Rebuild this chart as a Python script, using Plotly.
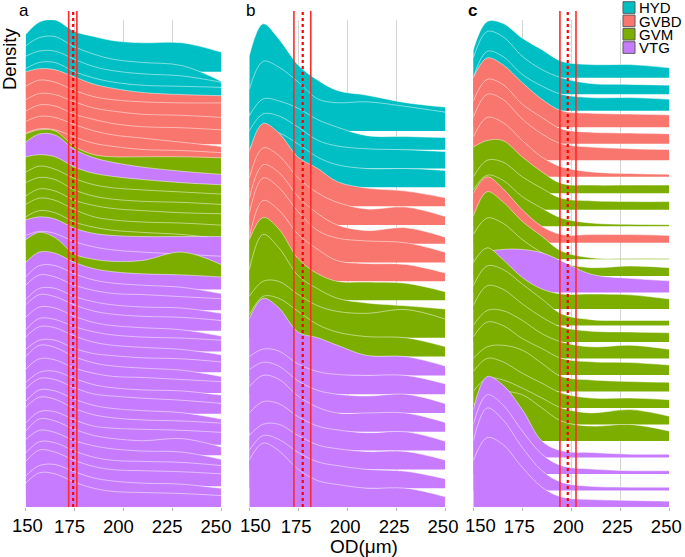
import plotly.graph_objects as go

# ---------------- data ----------------
X_KNOTS = [150, 157, 165, 175, 185, 195, 210, 230, 250]
X_TICKS = [150, 175, 200, 225, 250]
X_TICK_TEXT = ["150", "175", "200", "225", "250"]
STAGES = ["HYD", "GVBD", "GVM", "VTG"]
STAGE_COLORS = ["#00BFC4", "#F8766D", "#7CAE00", "#C77CFF"]

# panel a ridges, top to bottom (heights in ridge-spacing units)
A_GROUPS = ["HYD", "HYD", "HYD", "HYD",
            "GVBD", "GVBD", "GVBD", "GVBD", "GVBD", "GVBD",
            "GVM", "VTG",
            "GVM", "GVM", "GVM", "GVM", "GVM", "GVM",
            "VTG", "VTG", "GVM",
            "VTG", "VTG", "VTG", "VTG", "VTG", "VTG", "VTG", "VTG", "VTG", "VTG", "VTG",
            "VTG", "VTG", "VTG", "VTG", "VTG", "VTG", "VTG", "VTG", "VTG", "VTG", "VTG"]
A_HEIGHTS = [
    [3.6, 4.8, 5.0, 3.9, 3.4, 3.0, 2.8, 2.8, 1.9],
    [3.5, 4.3, 4.4, 3.4, 2.7, 2.2, 1.9, 1.6, 0.1],
    [3.5, 4.0, 4.0, 3.2, 2.5, 2.1, 1.8, 1.6, 1.0],
    [3.3, 3.9, 3.9, 3.0, 2.4, 2.0, 1.7, 1.6, 1.5],
    [4.0, 4.3, 4.2, 3.5, 2.8, 2.4, 2.0, 1.8, 1.7],
    [3.6, 4.2, 4.0, 3.2, 2.6, 2.3, 2.1, 2.0, 2.0],
    [3.3, 3.9, 3.8, 3.1, 2.5, 2.2, 1.9, 1.8, 1.6],
    [3.2, 3.8, 3.7, 2.9, 2.4, 2.0, 1.7, 1.6, 1.4],
    [3.2, 3.7, 3.6, 2.9, 2.3, 1.9, 1.6, 1.2, 0.8],
    [3.1, 3.5, 3.4, 2.7, 2.1, 1.8, 1.5, 1.4, 1.2],
    [4.0, 4.4, 4.3, 2.8, 2.0, 1.8, 1.8, 1.8, 1.7],
    [4.2, 5.0, 4.9, 3.5, 2.7, 2.25, 1.8, 1.4, 1.1],
    [3.8, 4.0, 3.8, 2.8, 2.2, 1.9, 1.6, 1.3, 1.1],
    [3.3, 3.9, 3.6, 2.7, 2.1, 1.8, 1.6, 1.4, 1.2],
    [3.3, 3.8, 3.6, 2.6, 2.0, 1.7, 1.5, 1.4, 1.2],
    [3.0, 3.7, 3.5, 2.6, 2.1, 1.8, 1.6, 1.4, 1.3],
    [3.2, 3.8, 3.6, 2.7, 2.0, 1.7, 1.5, 1.4, 1.2],
    [3.0, 3.6, 3.4, 2.5, 2.0, 1.7, 1.5, 1.3, 0.9],
    [3.7, 4.0, 3.8, 2.9, 2.4, 2.2, 2.1, 2.1, 2.1],
    [3.2, 3.6, 3.4, 2.6, 2.1, 1.8, 1.6, 1.4, 1.2],
    [3.8, 4.5, 4.0, 2.4, 1.9, 1.7, 1.8, 2.6, 1.4],
    [2.6, 3.6, 3.5, 2.6, 2.0, 1.7, 1.5, 1.4, 1.2],
    [2.2, 3.3, 3.3, 2.5, 1.9, 1.6, 1.4, 1.2, 0.6],
    [2.4, 3.4, 3.2, 2.4, 1.9, 1.6, 1.5, 1.3, 1.1],
    [2.0, 3.1, 3.1, 2.3, 1.8, 1.5, 1.3, 1.2, 0.7],
    [2.5, 3.5, 3.3, 2.5, 1.9, 1.6, 1.4, 1.3, 1.0],
    [2.3, 3.3, 3.2, 2.4, 1.8, 1.5, 1.3, 1.1, 0.5],
    [2.1, 3.2, 3.1, 2.4, 1.9, 1.6, 1.4, 1.3, 1.1],
    [2.4, 3.4, 3.3, 2.5, 1.9, 1.6, 1.4, 1.2, 0.7],
    [2.2, 3.1, 3.1, 2.3, 1.8, 1.6, 1.4, 1.3, 1.0],
    [2.5, 3.6, 3.4, 2.5, 1.9, 1.6, 1.4, 1.2, 0.6],
    [2.3, 3.3, 3.2, 2.4, 1.9, 1.6, 1.5, 1.3, 1.1],
    [2.0, 3.0, 3.1, 2.4, 1.8, 1.5, 1.3, 1.2, 0.8],
    [2.4, 3.4, 3.3, 2.5, 1.9, 1.7, 1.5, 1.3, 1.0],
    [2.2, 3.3, 3.2, 2.4, 1.8, 1.5, 1.3, 1.1, 0.5],
    [2.6, 3.6, 3.4, 2.5, 1.9, 1.6, 1.4, 1.3, 1.1],
    [2.1, 3.2, 3.2, 2.4, 1.8, 1.6, 1.5, 1.4, 1.2],
    [2.3, 3.5, 3.3, 2.5, 1.9, 1.6, 1.4, 1.6, 0.8],
    [2.5, 3.4, 3.2, 2.4, 1.9, 1.6, 1.4, 1.3, 0.6],
    [2.2, 3.3, 3.2, 2.4, 1.8, 1.5, 1.4, 1.3, 1.0],
    [2.4, 3.5, 3.3, 2.5, 1.9, 1.6, 1.5, 1.4, 1.2],
    [2.0, 3.0, 3.1, 2.4, 1.8, 1.5, 1.3, 1.2, 0.8],
    [2.3, 3.3, 3.2, 2.4, 1.8, 1.5, 1.4, 1.3, 1.1],
]

# panel b ridges, top to bottom
B_GROUPS = ["HYD", "HYD", "HYD", "HYD", "HYD",
            "GVBD", "GVBD", "GVBD", "GVBD", "GVBD",
            "GVM", "GVM", "GVM", "GVM",
            "VTG", "VTG", "VTG", "VTG", "VTG", "VTG", "VTG", "VTG"]
B_HEIGHTS = [
    [3.0, 4.7, 3.9, 2.5, 1.7, 1.15, 0.9, 0.5, 0.27],
    [2.2, 3.7, 3.4, 2.6, 1.7, 1.5, 1.55, 1.3, 1.0],
    [1.8, 2.7, 2.6, 2.2, 1.6, 1.2, 0.75, 0.7, 0.65],
    [2.0, 2.9, 2.8, 2.2, 1.5, 1.2, 1.05, 1.0, 0.9],
    [2.0, 3.0, 2.9, 2.3, 1.6, 1.2, 1.0, 1.0, 0.9],
    [2.9, 4.4, 3.9, 2.6, 2.0, 1.3, 0.96, 0.8, 0.45],
    [2.5, 4.1, 3.7, 2.5, 1.7, 1.2, 0.85, 0.95, 0.45],
    [2.4, 4.2, 3.8, 2.5, 1.6, 1.0, 0.7, 0.85, 0.35],
    [2.6, 4.5, 4.0, 2.7, 1.7, 1.3, 1.15, 1.05, 0.55],
    [2.3, 4.3, 3.8, 2.5, 1.7, 1.1, 0.95, 0.9, 0.45],
    [3.2, 4.4, 3.8, 2.2, 1.4, 1.0, 0.96, 0.9, 0.45],
    [2.6, 4.5, 3.8, 2.3, 1.6, 1.1, 0.85, 0.7, 0.53],
    [2.2, 3.0, 3.0, 2.3, 1.7, 1.4, 1.3, 1.5, 1.0],
    [2.2, 3.2, 3.1, 2.4, 1.7, 1.3, 1.06, 1.0, 0.53],
    [3.0, 4.1, 3.6, 2.3, 2.0, 1.6, 1.06, 1.0, 0.5],
    [2.0, 2.4, 2.3, 1.6, 1.2, 1.05, 1.0, 1.0, 0.55],
    [2.3, 2.7, 2.5, 1.7, 1.2, 1.0, 0.9, 1.0, 0.5],
    [2.4, 3.0, 2.8, 1.9, 1.3, 1.0, 1.0, 1.0, 0.5],
    [2.0, 2.6, 2.5, 1.8, 1.3, 1.1, 0.95, 1.0, 0.5],
    [1.8, 2.4, 2.4, 1.8, 1.3, 1.1, 0.95, 0.95, 0.5],
    [2.0, 2.8, 2.6, 1.9, 1.4, 1.2, 1.0, 0.9, 0.5],
    [2.5, 3.4, 3.0, 2.0, 1.4, 1.2, 1.0, 1.0, 0.55],
]

# panel c ridges, top to bottom
C_GROUPS = ["HYD", "HYD", "HYD",
            "GVBD", "GVBD", "GVBD", "GVBD",
            "GVM", "GVM", "GVM",
            "GVBD",
            "GVM", "GVM",
            "VTG",
            "GVM", "GVM", "GVM", "GVM", "GVM", "GVM", "GVM", "GVM", "GVM",
            "VTG", "VTG", "VTG", "VTG"]
C_HEIGHTS = [
    [1.7, 3.4, 3.3, 2.4, 1.7, 1.0, 0.8, 0.8, 0.6],
    [2.2, 3.8, 3.5, 2.3, 1.5, 1.0, 0.65, 0.6, 0.55],
    [2.0, 3.6, 3.3, 2.2, 1.5, 1.0, 0.8, 0.8, 0.7],
    [3.0, 4.2, 3.8, 2.7, 1.7, 1.0, 0.85, 0.8, 0.75],
    [2.6, 3.9, 3.6, 2.4, 1.6, 0.9, 0.7, 0.65, 0.6],
    [2.6, 4.0, 3.7, 2.5, 1.6, 1.0, 0.8, 0.7, 0.65],
    [2.4, 3.6, 3.3, 2.2, 1.2, 0.6, 0.3, 0.2, 0.15],
    [2.8, 3.2, 3.2, 2.2, 1.3, 0.6, 0.5, 0.5, 0.5],
    [2.0, 3.0, 2.9, 2.0, 1.3, 0.7, 0.55, 0.5, 0.5],
    [2.2, 3.1, 2.8, 1.8, 1.1, 0.5, 0.2, 0.12, 0.1],
    [3.0, 4.0, 3.3, 2.0, 1.0, 0.5, 0.5, 0.5, 0.45],
    [2.6, 4.1, 3.5, 2.3, 1.4, 0.5, 0.1, 0.05, 0.05],
    [2.5, 3.5, 3.2, 2.2, 1.4, 0.8, 0.5, 0.6, 0.5],
    [1.5, 2.4, 2.6, 2.6, 2.4, 1.9, 1.1, 0.85, 0.7],
    [2.8, 3.7, 3.0, 1.9, 1.2, 0.9, 0.9, 0.85, 0.6],
    [2.4, 3.6, 3.4, 2.5, 1.6, 0.7, 0.35, 0.3, 0.3],
    [2.2, 3.4, 3.2, 2.3, 1.5, 0.9, 0.65, 0.6, 0.55],
    [2.0, 2.9, 2.9, 2.3, 1.5, 1.0, 0.7, 0.8, 0.55],
    [2.3, 3.2, 3.0, 2.2, 1.6, 1.0, 0.8, 0.75, 0.6],
    [2.0, 2.7, 2.8, 2.5, 1.7, 0.9, 0.7, 0.6, 0.55],
    [2.2, 3.0, 2.8, 2.1, 1.5, 0.9, 0.6, 0.6, 0.5],
    [2.0, 2.8, 2.7, 2.2, 1.6, 1.0, 0.7, 0.9, 0.5],
    [2.2, 2.9, 3.0, 2.8, 2.0, 1.2, 0.9, 1.0, 0.6],
    [2.9, 4.9, 4.4, 2.9, 1.0, 0.4, 0.3, 0.2, 0.2],
    [3.0, 4.8, 4.2, 2.6, 1.2, 0.5, 0.3, 0.2, 0.2],
    [3.0, 5.0, 4.3, 2.6, 1.2, 0.5, 0.25, 0.2, 0.2],
    [2.8, 4.2, 3.8, 2.4, 1.2, 0.6, 0.45, 0.4, 0.35],
]

# reference lines per panel: [lower, upper] solid, mean dotted
A_LIMITS, A_MEAN = [172.0, 176.2], 174.3
B_LIMITS, B_MEAN = [172.8, 181.4], 177.3
C_LIMITS, C_MEAN = [194.2, 202.4], 198.2

PANEL_LABELS = ["a", "b", "c"]

# ---------------- figure ----------------
W, H = 685, 557
FONT = "Liberation Sans, Arial, sans-serif"
PLOT_TOP, PLOT_BOTTOM = 20, 507
PANEL_PX = [(25.7, 221.0), (249.3, 445.0), (473.3, 669.3)]
Y_TOPS = [47.0, 25.9, 29.5]
LABEL_SHIFT = [-5, -2, -3]            # px shift of tick labels 175..250
FIRST_SHIFT = [1.5, 5.7, 6.7]         # px shift of the "150" label
TICK_FS = 18.5

panels = [(A_GROUPS, A_HEIGHTS), (B_GROUPS, B_HEIGHTS), (C_GROUPS, C_HEIGHTS)]
fig = go.Figure()
color_of = dict(zip(STAGES, STAGE_COLORS))

for p, (groups, heights) in enumerate(panels):
    xa = "x" if p == 0 else f"x{p+1}"
    ya = "y" if p == 0 else f"y{p+1}"
    n = len(groups)
    for i, (g, h) in enumerate(zip(groups, heights)):
        base = n - 1 - i
        fig.add_trace(go.Scatter(x=[X_KNOTS[0], X_KNOTS[-1]], y=[base, base], mode="lines",
                                 line=dict(width=0), hoverinfo="skip", showlegend=False,
                                 xaxis=xa, yaxis=ya))
        fig.add_trace(go.Scatter(x=X_KNOTS, y=[base + v for v in h], mode="lines",
                                 line=dict(color="rgba(255,255,255,0.7)", width=0.7,
                                           shape="spline", smoothing=1.0),
                                 fill="tonexty", fillcolor=color_of[g],
                                 hoverinfo="skip", showlegend=False,
                                 xaxis=xa, yaxis=ya))

ydom = [1 - PLOT_BOTTOM / H, 1 - PLOT_TOP / H]
layout = dict(width=W, height=H, margin=dict(l=0, r=0, t=0, b=0),
              paper_bgcolor="white", plot_bgcolor="white", showlegend=False,
              font=dict(family=FONT, size=18, color="black"))
for p in range(3):
    sx = "xaxis" if p == 0 else f"xaxis{p+1}"
    sy = "yaxis" if p == 0 else f"yaxis{p+1}"
    x0, x1 = PANEL_PX[p]
    layout[sx] = dict(domain=[x0 / W, x1 / W], range=[150, 250], tickvals=X_TICKS,
                      ticktext=[""] + X_TICK_TEXT[1:], showgrid=True, gridcolor="#d4d4d4",
                      gridwidth=1, zeroline=False, showline=False, ticks="outside",
                      ticklen=3, tickcolor="#b5b5b5", tickfont=dict(size=TICK_FS, family=FONT),
                      ticklabelshift=LABEL_SHIFT[p], ticklabeloverflow="allow",
                      anchor="y" if p == 0 else f"y{p+1}", automargin=False, fixedrange=True)
    layout[sy] = dict(domain=ydom, range=[0, Y_TOPS[p]], showgrid=False, zeroline=False,
                      showticklabels=False, showline=False, ticks="",
                      anchor="x" if p == 0 else f"x{p+1}", automargin=False, fixedrange=True)
fig.update_layout(**layout)

shapes = []
for p, (lims, mean) in enumerate([(A_LIMITS, A_MEAN), (B_LIMITS, B_MEAN), (C_LIMITS, C_MEAN)]):
    xr = "x" if p == 0 else f"x{p+1}"
    for v in lims:
        shapes.append(dict(type="line", xref=xr, yref="paper", x0=v, x1=v,
                           y0=1 - 507 / H, y1=1 - 11 / H,
                           line=dict(color="#FF2A2A", width=1.6)))
    shapes.append(dict(type="line", xref=xr, yref="paper", x0=mean, x1=mean,
                       y0=1 - 507 / H, y1=1 - 11 / H,
                       line=dict(color="#FF0000", width=2.2, dash="dot")))

annotations = []
# first tick label of each panel, placed on the axis value
for p in range(3):
    xr = "x" if p == 0 else f"x{p+1}"
    annotations.append(dict(text=X_TICK_TEXT[0], xref=xr, yref="paper", x=X_TICKS[0],
                            y=1 - 525 / H, xanchor="center", yanchor="middle",
                            xshift=FIRST_SHIFT[p], showarrow=False,
                            font=dict(size=TICK_FS, family=FONT, color="black")))
# legend
for j, (s, c) in enumerate(zip(STAGES, STAGE_COLORS)):
    top = 1.7 + j * 13.35
    shapes.append(dict(type="rect", xref="paper", yref="paper",
                       x0=623 / W, x1=635 / W, y0=1 - (top + 11.6) / H, y1=1 - top / H,
                       fillcolor=c, line=dict(color="#5a5a5a", width=1), layer="above"))
    annotations.append(dict(text=s, xref="paper", yref="paper", x=636.5 / W, y=1 - (top + 6.0) / H,
                            xanchor="left", yanchor="middle", showarrow=False,
                            font=dict(size=15, family=FONT, color="black")))

annotations.append(dict(text="OD(μm)", xref="paper", yref="paper", x=364 / W, y=1 - 546 / H,
                        xanchor="center", yanchor="middle", showarrow=False,
                        font=dict(size=19, family=FONT)))
annotations.append(dict(text="Density", xref="paper", yref="paper", x=10 / W, y=1 - 59 / H,
                        xanchor="center", yanchor="middle", textangle=-90, showarrow=False,
                        font=dict(size=18.5, family=FONT)))
for p, (lab, px) in enumerate(zip(PANEL_LABELS, [24.5, 250, 472])):
    annotations.append(dict(text=f"<b>{lab}</b>" if lab == "c" else lab, xref="paper", yref="paper",
                            x=px / W, y=1 - 10.5 / H, xanchor="center", yanchor="middle",
                            showarrow=False, font=dict(size=17, family=FONT)))

fig.update_layout(shapes=shapes, annotations=annotations)
fig.write_html("out.html", config={"displayModeBar": False, "responsive": False},
               post_script="document.body.style.margin='0px';document.body.style.padding='0px';")
